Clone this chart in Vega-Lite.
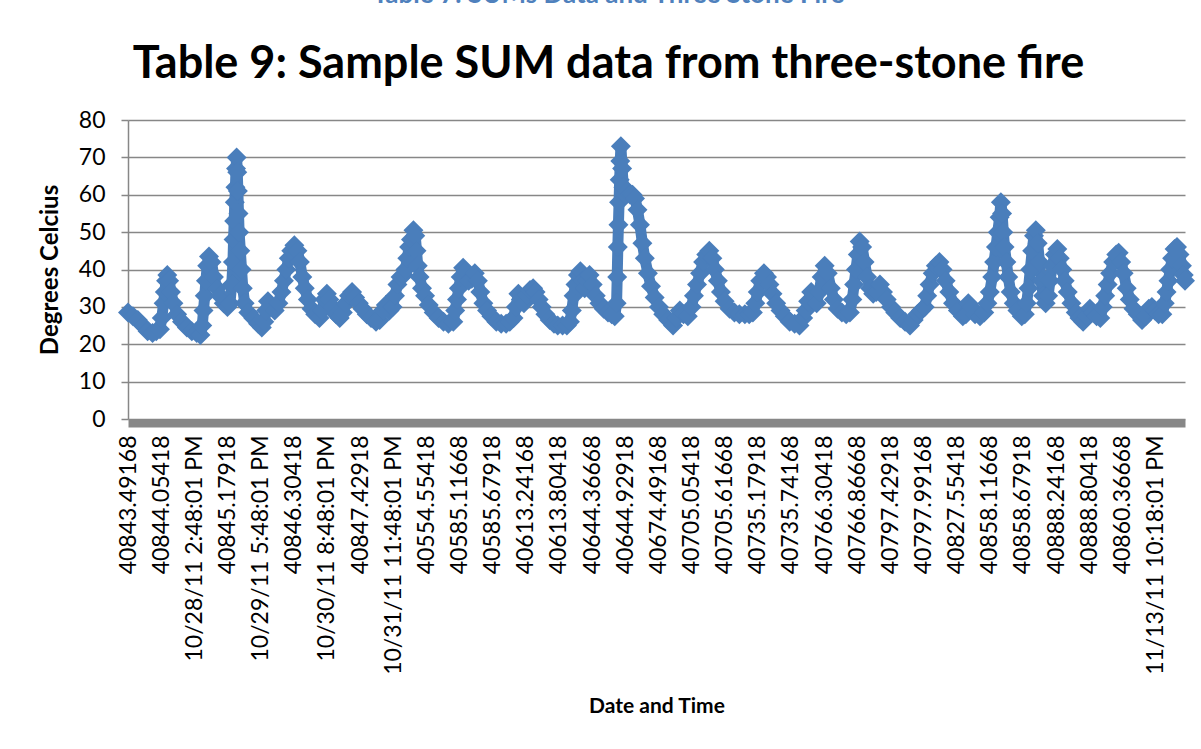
{
  "$schema": "https://vega.github.io/schema/vega-lite/v6.json",
  "autosize": {"type": "none"},
  "padding": {"left": 128, "top": 120, "right": 16, "bottom": 330},
  "width": 1057,
  "height": 299,
  "background": "white",
  "title": {
    "text": "Table 7: SUMs Data and Three Stone Fire",
    "subtitle": "Table 9: Sample SUM data from three-stone fire",
    "anchor": "middle",
    "dx": -48,
    "offset": 22,
    "font": "Lato",
    "fontSize": 26,
    "fontWeight": "bold",
    "color": "#4f81bd",
    "subtitleFont": "Lato",
    "subtitleFontSize": 45,
    "subtitleFontWeight": "bold",
    "subtitleColor": "#000000",
    "subtitlePadding": 34
  },
  "data": {
    "values": [
      {"obs":0,"t":28.5},{"obs":8,"t":27.5},{"obs":16,"t":26.5},{"obs":24,"t":25},{"obs":32,"t":23.5},{"obs":40,"t":23},{"obs":46,"t":23.5},{"obs":52,"t":24},{"obs":55,"t":27},{"obs":58,"t":31},{"obs":60,"t":34},{"obs":62,"t":37},{"obs":64,"t":38.5},{"obs":67,"t":37},{"obs":70,"t":34},{"obs":74,"t":31},{"obs":80,"t":28},{"obs":88,"t":26},{"obs":96,"t":24.5},{"obs":104,"t":23.5},{"obs":112,"t":23},{"obs":118,"t":22.5},{"obs":121,"t":25},{"obs":123,"t":29},{"obs":125,"t":33},{"obs":127,"t":37},{"obs":129,"t":41},{"obs":132,"t":43.5},{"obs":136,"t":42},{"obs":140,"t":38},{"obs":145,"t":35},{"obs":150,"t":33},{"obs":156,"t":31},{"obs":162,"t":30},{"obs":166,"t":31},{"obs":169,"t":36},{"obs":171,"t":42},{"obs":172,"t":48},{"obs":173,"t":53},{"obs":174,"t":58},{"obs":175,"t":62},{"obs":176,"t":67},{"obs":177,"t":70},{"obs":178,"t":66},{"obs":179,"t":61},{"obs":180,"t":55},{"obs":181,"t":50},{"obs":183,"t":45},{"obs":185,"t":40},{"obs":187,"t":35},{"obs":190,"t":31},{"obs":196,"t":28.5},{"obs":204,"t":27},{"obs":212,"t":25.5},{"obs":218,"t":24.5},{"obs":222,"t":26},{"obs":225,"t":29},{"obs":228,"t":31.5},{"obs":233,"t":30},{"obs":239,"t":29},{"obs":245,"t":31},{"obs":250,"t":34},{"obs":254,"t":37},{"obs":258,"t":40},{"obs":262,"t":43},{"obs":266,"t":45},{"obs":271,"t":46.5},{"obs":276,"t":45},{"obs":280,"t":42},{"obs":284,"t":38},{"obs":288,"t":35},{"obs":293,"t":32},{"obs":299,"t":29.5},{"obs":305,"t":28},{"obs":312,"t":27},{"obs":316,"t":29},{"obs":320,"t":32},{"obs":324,"t":33.5},{"obs":328,"t":32},{"obs":333,"t":30},{"obs":339,"t":28},{"obs":345,"t":27},{"obs":350,"t":28.5},{"obs":355,"t":31},{"obs":360,"t":33},{"obs":365,"t":34},{"obs":370,"t":32.5},{"obs":376,"t":31},{"obs":382,"t":29.5},{"obs":389,"t":28},{"obs":396,"t":27},{"obs":404,"t":26},{"obs":410,"t":26.5},{"obs":415,"t":29},{"obs":420,"t":30.5},{"obs":426,"t":29},{"obs":431,"t":30},{"obs":435,"t":33},{"obs":439,"t":36},{"obs":444,"t":38},{"obs":449,"t":38.5},{"obs":452,"t":40},{"obs":455,"t":43},{"obs":458,"t":46},{"obs":461,"t":48},{"obs":465,"t":50.5},{"obs":468,"t":49},{"obs":470,"t":45},{"obs":472,"t":41},{"obs":475,"t":38},{"obs":479,"t":35},{"obs":484,"t":33},{"obs":490,"t":30.5},{"obs":498,"t":28.5},{"obs":506,"t":27},{"obs":514,"t":26},{"obs":522,"t":25.5},{"obs":530,"t":26},{"obs":533,"t":29},{"obs":536,"t":32},{"obs":539,"t":35},{"obs":542,"t":38},{"obs":546,"t":40.5},{"obs":550,"t":39.5},{"obs":555,"t":37},{"obs":560,"t":37.5},{"obs":565,"t":39},{"obs":570,"t":37},{"obs":574,"t":34},{"obs":579,"t":31},{"obs":585,"t":29},{"obs":592,"t":27.5},{"obs":600,"t":26},{"obs":608,"t":25.5},{"obs":616,"t":25.5},{"obs":622,"t":26},{"obs":628,"t":27},{"obs":632,"t":30},{"obs":636,"t":33.5},{"obs":640,"t":32},{"obs":645,"t":31},{"obs":650,"t":33},{"obs":655,"t":34.5},{"obs":660,"t":35},{"obs":664,"t":34},{"obs":669,"t":32},{"obs":674,"t":30},{"obs":680,"t":28},{"obs":687,"t":26.5},{"obs":694,"t":25.5},{"obs":700,"t":25},{"obs":708,"t":25},{"obs":715,"t":25},{"obs":720,"t":26},{"obs":723,"t":29},{"obs":726,"t":33},{"obs":729,"t":36},{"obs":733,"t":38.5},{"obs":737,"t":39.5},{"obs":741,"t":37},{"obs":744,"t":35},{"obs":748,"t":37},{"obs":752,"t":38.5},{"obs":757,"t":36},{"obs":762,"t":33},{"obs":768,"t":31},{"obs":775,"t":29.5},{"obs":782,"t":28.5},{"obs":788,"t":28},{"obs":793,"t":27.5},{"obs":796,"t":31},{"obs":797,"t":38},{"obs":798,"t":46},{"obs":799,"t":52},{"obs":800,"t":58},{"obs":801,"t":64},{"obs":802,"t":69},{"obs":803,"t":73},{"obs":805,"t":67},{"obs":807,"t":62},{"obs":810,"t":60},{"obs":814,"t":61},{"obs":818,"t":60},{"obs":822,"t":60},{"obs":826,"t":59},{"obs":830,"t":56},{"obs":834,"t":52},{"obs":838,"t":47},{"obs":842,"t":43},{"obs":847,"t":39},{"obs":852,"t":35.5},{"obs":858,"t":32.5},{"obs":865,"t":30},{"obs":872,"t":28},{"obs":880,"t":26.5},{"obs":888,"t":25},{"obs":893,"t":27},{"obs":899,"t":29},{"obs":905,"t":28},{"obs":912,"t":27.5},{"obs":918,"t":30},{"obs":922,"t":33},{"obs":927,"t":36},{"obs":932,"t":39},{"obs":937,"t":42},{"obs":942,"t":44},{"obs":947,"t":45},{"obs":952,"t":43},{"obs":956,"t":40},{"obs":961,"t":37},{"obs":966,"t":34},{"obs":972,"t":31.5},{"obs":980,"t":29.5},{"obs":988,"t":28.5},{"obs":996,"t":28},{"obs":1005,"t":28},{"obs":1012,"t":28},{"obs":1018,"t":28.5},{"obs":1022,"t":31},{"obs":1026,"t":34},{"obs":1030,"t":37},{"obs":1036,"t":39},{"obs":1041,"t":38},{"obs":1045,"t":36},{"obs":1050,"t":33.5},{"obs":1056,"t":31},{"obs":1063,"t":29},{"obs":1070,"t":27.5},{"obs":1078,"t":26},{"obs":1086,"t":25.5},{"obs":1094,"t":25},{"obs":1100,"t":27},{"obs":1104,"t":29},{"obs":1108,"t":31.5},{"obs":1113,"t":34},{"obs":1118,"t":33},{"obs":1122,"t":31},{"obs":1126,"t":34},{"obs":1130,"t":38},{"obs":1135,"t":41},{"obs":1140,"t":39},{"obs":1145,"t":35},{"obs":1150,"t":32},{"obs":1156,"t":29.5},{"obs":1163,"t":28.5},{"obs":1170,"t":28},{"obs":1176,"t":28.5},{"obs":1180,"t":32},{"obs":1183,"t":36},{"obs":1186,"t":40},{"obs":1189,"t":44},{"obs":1192,"t":47.5},{"obs":1196,"t":46},{"obs":1200,"t":42},{"obs":1204,"t":38},{"obs":1209,"t":35},{"obs":1214,"t":33.5},{"obs":1219,"t":34},{"obs":1225,"t":36},{"obs":1230,"t":34},{"obs":1236,"t":32},{"obs":1243,"t":30},{"obs":1250,"t":28.5},{"obs":1258,"t":27},{"obs":1266,"t":26},{"obs":1274,"t":25},{"obs":1280,"t":26.5},{"obs":1286,"t":28},{"obs":1292,"t":29},{"obs":1298,"t":30},{"obs":1302,"t":33},{"obs":1306,"t":36},{"obs":1311,"t":39},{"obs":1316,"t":41},{"obs":1322,"t":42},{"obs":1327,"t":40},{"obs":1332,"t":37},{"obs":1338,"t":34},{"obs":1344,"t":31},{"obs":1352,"t":29},{"obs":1360,"t":27.5},{"obs":1365,"t":28},{"obs":1369,"t":31},{"obs":1374,"t":30},{"obs":1380,"t":28},{"obs":1388,"t":27.5},{"obs":1395,"t":28.5},{"obs":1400,"t":31},{"obs":1404,"t":34},{"obs":1408,"t":38},{"obs":1411,"t":42},{"obs":1414,"t":46},{"obs":1417,"t":50},{"obs":1420,"t":54},{"obs":1422,"t":58},{"obs":1424,"t":55},{"obs":1426,"t":50},{"obs":1428,"t":46},{"obs":1431,"t":42},{"obs":1434,"t":38},{"obs":1438,"t":34},{"obs":1443,"t":31},{"obs":1449,"t":29},{"obs":1456,"t":27.5},{"obs":1461,"t":28},{"obs":1464,"t":31},{"obs":1467,"t":35},{"obs":1470,"t":40},{"obs":1473,"t":45},{"obs":1476,"t":49},{"obs":1479,"t":50.5},{"obs":1482,"t":47},{"obs":1485,"t":42},{"obs":1488,"t":37},{"obs":1491,"t":33},{"obs":1495,"t":31},{"obs":1499,"t":33},{"obs":1502,"t":37},{"obs":1506,"t":41},{"obs":1510,"t":44},{"obs":1514,"t":45.5},{"obs":1518,"t":43},{"obs":1522,"t":40},{"obs":1526,"t":37},{"obs":1531,"t":34},{"obs":1537,"t":31},{"obs":1544,"t":28.5},{"obs":1550,"t":27},{"obs":1556,"t":26},{"obs":1562,"t":27.5},{"obs":1567,"t":29.5},{"obs":1572,"t":28.5},{"obs":1578,"t":27.5},{"obs":1584,"t":27},{"obs":1588,"t":30},{"obs":1592,"t":33},{"obs":1596,"t":36},{"obs":1600,"t":39},{"obs":1605,"t":42},{"obs":1610,"t":44},{"obs":1614,"t":44.5},{"obs":1618,"t":42},{"obs":1622,"t":39},{"obs":1627,"t":35},{"obs":1632,"t":32},{"obs":1638,"t":29.5},{"obs":1645,"t":28},{"obs":1652,"t":26.5},{"obs":1658,"t":27.5},{"obs":1663,"t":29.5},{"obs":1668,"t":30},{"obs":1673,"t":29},{"obs":1679,"t":28},{"obs":1685,"t":28},{"obs":1689,"t":31},{"obs":1692,"t":34},{"obs":1695,"t":37},{"obs":1698,"t":40},{"obs":1701,"t":43},{"obs":1705,"t":45.5},{"obs":1709,"t":46},{"obs":1713,"t":44},{"obs":1717,"t":41},{"obs":1720,"t":38.5},{"obs":1722,"t":37}
    ]
  },
  "mark": {
    "type": "line",
    "color": "#4a7ebb",
    "strokeWidth": 11,
    "strokeJoin": "round",
    "strokeCap": "round",
    "point": {"filled": true, "shape": "diamond", "size": 400, "color": "#4a7ebb", "opacity": 1}
  },
  "encoding": {
    "x": {
      "field": "obs",
      "type": "quantitative",
      "scale": {"domain": [0, 1722], "nice": false, "zero": false},
      "axis": {
        "title": "Date and Time",
        "titleFont": "Lato",
        "titleFontSize": 21,
        "titleFontWeight": "bold",
        "titleColor": "#000000",
        "titlePadding": 72,
        "values": [0,54,108,162,216,270,324,378,432,486,540,594,648,702,756,810,864,918,972,1026,1080,1134,1188,1242,1296,1350,1404,1458,1512,1566,1620,1674],
        "labelExpr": "['40843.49168','40844.05418','10/28/11 2:48:01 PM','40845.17918','10/29/11 5:48:01 PM','40846.30418','10/30/11 8:48:01 PM','40847.42918','10/31/11 11:48:01 PM','40554.55418','40585.11668','40585.67918','40613.24168','40613.80418','40644.36668','40644.92918','40674.49168','40705.05418','40705.61668','40735.17918','40735.74168','40766.30418','40766.86668','40797.42918','40797.99168','40827.55418','40858.11668','40858.67918','40888.24168','40888.80418','40860.36668','11/13/11 10:18:01 PM'][round(datum.value/54)]",
        "labelAngle": 270,
        "labelFont": "Lato",
        "labelFontSize": 23,
        "labelColor": "#000000",
        "labelPadding": 12,
        "labelLimit": 0,
        "labelOverlap": false,
        "labelBound": false,
        "labelFlush": false,
        "ticks": false,
        "grid": false,
        "domainColor": "#878787",
        "domainWidth": 8,
        "offset": 4
      }
    },
    "y": {
      "field": "t",
      "type": "quantitative",
      "scale": {"domain": [0, 80], "nice": false},
      "axis": {
        "title": "Degrees Celcius",
        "titleFont": "Lato",
        "titleFontSize": 24,
        "titleFontWeight": "bold",
        "titleColor": "#000000",
        "titlePadding": 16,
        "values": [0,10,20,30,40,50,60,70,80],
        "labelFont": "Lato",
        "labelFontSize": 23,
        "labelColor": "#000000",
        "labelPadding": 16,
        "tickSize": 7,
        "tickColor": "#878787",
        "tickWidth": 1.5,
        "domainColor": "#878787",
        "domainWidth": 1.5,
        "grid": true,
        "gridColor": "#878787",
        "gridWidth": 1.5
      }
    }
  },
  "config": {"view": {"stroke": null}}
}
